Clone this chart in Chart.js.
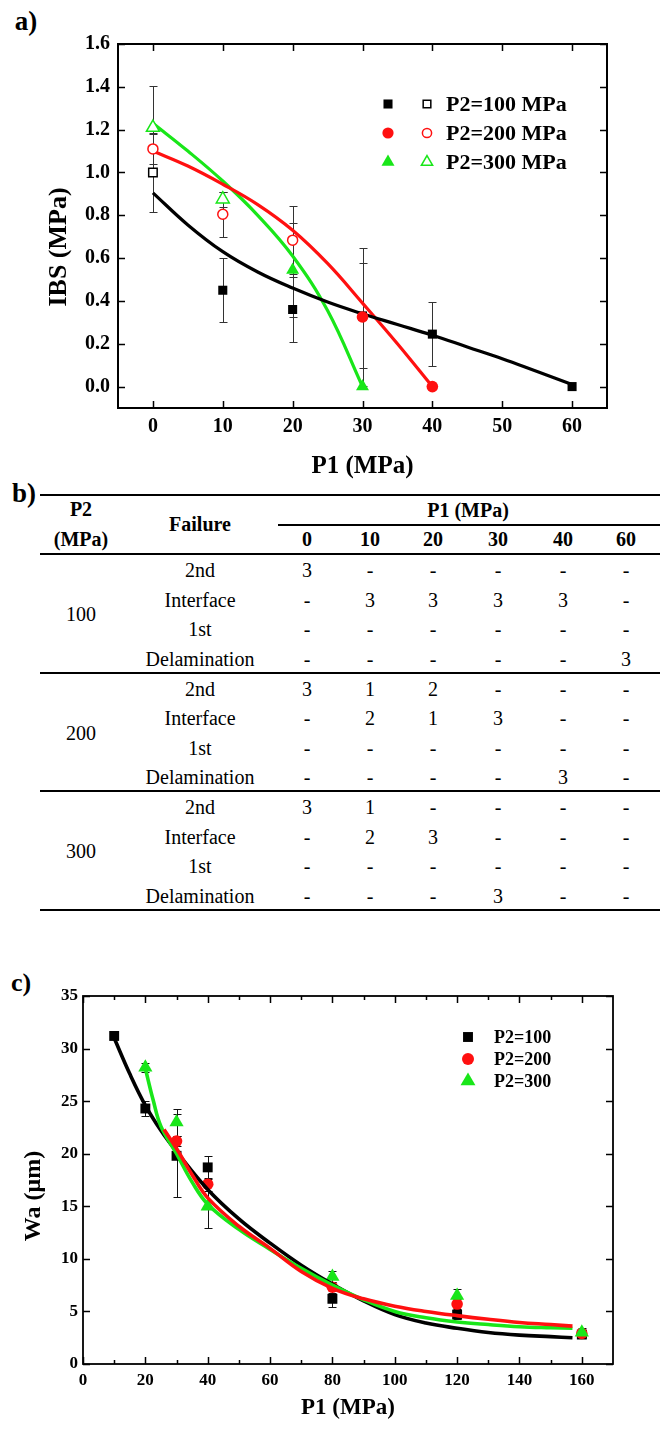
<!DOCTYPE html>
<html>
<head>
<meta charset="utf-8">
<script src="https://cdn.jsdelivr.net/npm/chart.js@4.4.1/dist/chart.umd.min.js"></script>
<style>
  html, body { margin: 0; padding: 0; background: #fff; }
  body { width: 660px; height: 1431px; position: relative; overflow: hidden;
         font-family: "Liberation Serif", "Times New Roman", "DejaVu Serif", serif; color: #000; }
  canvas { position: absolute; left: 0; }
  #chartA { top: 0; }
  #chartC { top: 950px; }
  .panel { position: absolute; font-family: "Liberation Serif", "Times New Roman", serif; font-weight: bold;
           line-height: 1; transform: translate(-50%, -50%); }
  .cell { position: absolute; font-family: "Liberation Serif", "Times New Roman", serif; line-height: 1;
          white-space: nowrap; transform: translate(-50%, -50%); font-size: 20px; font-weight: normal; }
  .cell.b { font-weight: bold; }
  .rule { position: absolute; background: #000; }
</style>
</head>
<body>
<div class="panel" style="left:26px;top:21px;font-size:27px;">a)</div>
<div class="panel" style="left:24px;top:493px;font-size:27px;">b)</div>
<div class="panel" style="left:21px;top:983px;font-size:26px;">c)</div>

<canvas id="chartA" width="660" height="490"></canvas>
<div id="table"></div>
<canvas id="chartC" width="660" height="481"></canvas>

<script>
// ---------- panel a: IBS against P1 ----------
const ibsTicksX = [0, 10, 20, 30, 40, 50, 60];
const ibsTicksY = [0, 0.2, 0.4, 0.6, 0.8, 1.0, 1.2, 1.4, 1.6];

// P2 = 100 MPa
const p100OpenX = [0];
const p100OpenY = [1.0];
const p100OpenErr = [0.185];
const p100X = [10, 20, 30, 40, 60];
const p100Y = [0.45, 0.36, 0.33, 0.245, 0.0];
const p100Err = [0.15, 0.15, 0.245, 0.15, 0];
// P2 = 200 MPa
const p200OpenX = [0, 10, 20];
const p200OpenY = [1.11, 0.805, 0.684];
const p200OpenErr = [0.07, 0.105, 0.16];
const p200X = [30, 40];
const p200Y = [0.325, 0.0];
const p200Err = [0.32, 0];
// P2 = 300 MPa
const p300OpenX = [0, 10];
const p300OpenY = [1.21, 0.875];
const p300OpenErr = [0.195, 0.035];
const p300X = [20, 30];
const p300Y = [0.545, 0.0];
const p300Err = [0.22, 0];

// fitted trend curves
const ibsFit100X = [0, 5, 10, 15, 20, 25, 30, 35, 40, 45, 50, 55, 60];
const ibsFit100Y = [0.905, 0.755, 0.63, 0.535, 0.46, 0.395, 0.34, 0.29, 0.24, 0.185, 0.13, 0.07, 0.01];
const ibsFit200X = [0, 5, 10, 15, 20, 25, 30, 35, 40];
const ibsFit200Y = [1.10, 1.03, 0.945, 0.85, 0.73, 0.575, 0.39, 0.2, 0.0];
const ibsFit300X = [0, 5, 10, 15, 20, 25, 30];
const ibsFit300Y = [1.23, 1.10, 0.96, 0.80, 0.61, 0.355, 0.0];

const ibsLegend = ['P2=100 MPa', 'P2=200 MPa', 'P2=300 MPa'];

// ---------- panel b: failure modes ----------
const p1Columns = ['0', '10', '20', '30', '40', '60'];
const failureModes = ['2nd', 'Interface', '1st', 'Delamination'];
const p2Levels = ['100', '200', '300'];
const counts100 = [
  ['3', '-', '-', '-', '-', '-'],
  ['-', '3', '3', '3', '3', '-'],
  ['-', '-', '-', '-', '-', '-'],
  ['-', '-', '-', '-', '-', '3']
];
const counts200 = [
  ['3', '1', '2', '-', '-', '-'],
  ['-', '2', '1', '3', '-', '-'],
  ['-', '-', '-', '-', '-', '-'],
  ['-', '-', '-', '-', '3', '-']
];
const counts300 = [
  ['3', '1', '-', '-', '-', '-'],
  ['-', '2', '3', '-', '-', '-'],
  ['-', '-', '-', '-', '-', '-'],
  ['-', '-', '-', '3', '-', '-']
];

// ---------- panel c: Wa against P1 ----------
const waTicksX = [0, 20, 40, 60, 80, 100, 120, 140, 160];
const waMinorX = [10, 30, 50, 70, 90, 110, 130, 150];
const waTicksY = [0, 5, 10, 15, 20, 25, 30, 35];

const wa100X = [10, 20, 30, 40, 80, 120, 160];
const wa100Y = [31.2, 24.3, 19.8, 18.7, 6.2, 4.7, 2.8];
const wa100Err = [0.3, 0.75, 3.95, 1.1, 0.8, 0.4, 0.3];
const wa200X = [30, 40, 80, 120, 160];
const wa200Y = [21.2, 17.1, 7.3, 5.7, 2.9];
const wa200Err = [0.5, 0.6, 0.5, 0.5, 0.3];
const wa300X = [20, 30, 40, 80, 120, 160];
const wa300Y = [28.2, 23.0, 15.0, 8.3, 6.5, 3.0];
const wa300Err = [0.4, 1.3, 2.1, 0.5, 0.65, 0.4];

const waFit100X = [10, 15, 20, 25, 30, 40, 50, 60, 70, 80, 90, 100, 110, 120, 130, 140, 150, 157];
const waFit100Y = [31.0, 27.6, 24.6, 22.2, 20.2, 16.6, 13.8, 11.5, 9.4, 7.6, 6.0, 4.7, 3.9, 3.4, 3.0, 2.75, 2.6, 2.5];
const waFit200X = [26, 30, 35, 40, 50, 60, 70, 80, 90, 100, 110, 120, 130, 140, 150, 157];
const waFit200Y = [22.3, 20.5, 18.0, 15.8, 13.1, 11.0, 8.8, 7.2, 6.2, 5.5, 5.0, 4.6, 4.25, 3.95, 3.75, 3.6];
const waFit300X = [20, 22.5, 25, 30, 35, 40, 50, 60, 70, 80, 90, 100, 110, 120, 130, 140, 150, 157];
const waFit300Y = [28.1, 25.1, 22.6, 20.0, 17.3, 15.2, 12.8, 10.9, 9.1, 7.5, 6.1, 5.0, 4.4, 4.0, 3.75, 3.55, 3.45, 3.4];

const waLegend = ['P2=100', 'P2=200', 'P2=300'];

// ---------- shared helpers ----------
const FONT = "'Liberation Serif', 'Times New Roman', serif";
const BLACK = '#000000';
const RED = '#ff1010';
const GREEN = '#19e619';

Chart.defaults.font.family = FONT;
Chart.defaults.color = '#000';

const pts = (xs, ys) => xs.map((x, i) => ({ x, y: ys[i] }));

function markerSet(xs, ys, errs, style, color, radius, open, order) {
  return {
    data: pts(xs, ys),
    errors: errs,
    pointStyle: style,
    pointRadius: radius,
    pointHoverRadius: radius,
    pointBackgroundColor: open ? '#ffffff' : color,
    pointBorderColor: color,
    pointBorderWidth: open ? 1.5 : 0,
    showLine: false,
    order
  };
}

function fitSet(xs, ys, color, width, order) {
  return {
    data: pts(xs, ys),
    showLine: true,
    borderColor: color,
    borderWidth: width,
    pointRadius: 0,
    pointHoverRadius: 0,
    tension: 0.4,
    fill: false,
    order
  };
}

// frame round the plot area with inward ticks on all four sides
const frameTicks = {
  id: 'frameTicks',
  afterDatasetsDraw(chart, args, o) {
    const { ctx, chartArea: a, scales: { x, y } } = chart;
    ctx.save();
    ctx.strokeStyle = '#000';
    ctx.lineWidth = o.lineWidth;
    ctx.strokeRect(a.left, a.top, a.right - a.left, a.bottom - a.top);
    ctx.beginPath();
    const xt = (vals, len) => vals.forEach(v => {
      const px = Math.round(x.getPixelForValue(v)) + 0.5;
      ctx.moveTo(px, a.bottom); ctx.lineTo(px, a.bottom - len);
      ctx.moveTo(px, a.top); ctx.lineTo(px, a.top + len);
    });
    xt(o.xMajor, o.major);
    if (o.xMinor) xt(o.xMinor, o.minor);
    o.yMajor.forEach(v => {
      const py = Math.round(y.getPixelForValue(v)) + 0.5;
      ctx.moveTo(a.left, py); ctx.lineTo(a.left + o.major, py);
      ctx.moveTo(a.right, py); ctx.lineTo(a.right - o.major, py);
    });
    ctx.lineWidth = o.tickWidth;
    ctx.stroke();
    ctx.restore();
  }
};

// vertical error bars with caps, taken from each dataset's "errors" list
const errorBars = {
  id: 'errorBars',
  beforeDatasetsDraw(chart, args, o) {
    const { ctx, scales: { x, y } } = chart;
    ctx.save();
    ctx.strokeStyle = o.color;
    ctx.lineWidth = 1;
    chart.data.datasets.forEach(ds => {
      if (!ds.errors) return;
      ds.data.forEach((p, i) => {
        const e = ds.errors[i];
        if (!e) return;
        const px = Math.round(x.getPixelForValue(p.x)) + 0.5;
        const top = Math.round(y.getPixelForValue(p.y + e)) + 0.5;
        const bot = Math.round(y.getPixelForValue(p.y - e)) + 0.5;
        ctx.beginPath();
        ctx.moveTo(px, top); ctx.lineTo(px, bot);
        ctx.moveTo(px - o.cap, top); ctx.lineTo(px + o.cap, top);
        ctx.moveTo(px - o.cap, bot); ctx.lineTo(px + o.cap, bot);
        ctx.stroke();
      });
    });
    ctx.restore();
  }
};

// axis titles
const axisTitles = {
  id: 'axisTitles',
  afterDraw(chart, args, o) {
    const { ctx, chartArea: a } = chart;
    ctx.save();
    ctx.fillStyle = '#000';
    ctx.textAlign = 'center';
    ctx.textBaseline = 'middle';
    ctx.font = `bold ${o.xSize}px ${FONT}`;
    ctx.fillText(o.xText, (a.left + a.right) / 2, a.bottom + o.xGap);
    ctx.translate(o.yX, (a.top + a.bottom) / 2 + o.yShift);
    ctx.rotate(-Math.PI / 2);
    ctx.font = `bold ${o.ySize}px ${FONT}`;
    ctx.fillText(o.yText, 0, 0);
    ctx.restore();
  }
};

function drawMarker(ctx, style, r, x, y, fill, stroke, bw) {
  ctx.fillStyle = fill;
  ctx.strokeStyle = stroke;
  ctx.lineWidth = bw;
  Chart.helpers.drawPoint(ctx, { pointStyle: style, radius: r, rotation: 0, borderWidth: bw }, x, y);
}

// legend rows: one or two markers followed by the label
const markerLegend = {
  id: 'markerLegend',
  afterDraw(chart, args, o) {
    const { ctx } = chart;
    ctx.save();
    o.rows.forEach((row, i) => {
      const yy = o.y0 + i * o.dy;
      row.markers.forEach(m => drawMarker(ctx, m.style, m.r, m.x, yy, m.fill, m.stroke, m.bw));
      ctx.fillStyle = '#000';
      ctx.textAlign = 'left';
      ctx.textBaseline = 'middle';
      ctx.font = `bold ${o.size}px ${FONT}`;
      ctx.fillText(row.text, o.textX, yy + 1);
    });
    ctx.restore();
  }
};

// ---------- panel a ----------
const legendStylesA = [
  { style: 'rect', r: 6.4, color: BLACK },
  { style: 'circle', r: 5.6, color: RED },
  { style: 'triangle', r: 7.5, color: GREEN }
];

new Chart(document.getElementById('chartA'), {
  type: 'scatter',
  data: {
    datasets: [
      markerSet(p100OpenX, p100OpenY, p100OpenErr, 'rect', BLACK, 6.0, true, 1),
      markerSet(p100X, p100Y, p100Err, 'rect', BLACK, 6.4, false, 2),
      markerSet(p200OpenX, p200OpenY, p200OpenErr, 'circle', RED, 5.0, true, 1),
      markerSet(p200X, p200Y, p200Err, 'circle', RED, 5.8, false, 1),
      markerSet(p300OpenX, p300OpenY, p300OpenErr, 'triangle', GREEN, 7.5, true, 1),
      markerSet(p300X, p300Y, p300Err, 'triangle', GREEN, 7.5, false, 1),
      fitSet(ibsFit300X, ibsFit300Y, GREEN, 3.2, 5),
      fitSet(ibsFit200X, ibsFit200Y, RED, 3.2, 4),
      fitSet(ibsFit100X, ibsFit100Y, BLACK, 3.2, 3)
    ]
  },
  options: {
    responsive: false,
    animation: false,
    devicePixelRatio: 1,
    layout: { padding: { top: 44, right: 53, left: 0, bottom: 0 } },
    plugins: {
      legend: { display: false },
      tooltip: { enabled: false },
      frameTicks: { lineWidth: 2, tickWidth: 1.5, major: 7, xMajor: ibsTicksX, yMajor: ibsTicksY },
      errorBars: { color: '#333', cap: 4 },
      axisTitles: { xText: 'P1 (MPa)', xSize: 25, xGap: 59, yText: 'IBS (MPa)', ySize: 26, yX: 59, yShift: 21 },
      markerLegend: {
        y0: 104, dy: 29, textX: 446, size: 22,
        rows: ibsLegend.map((t, i) => ({
          text: t,
          markers: [
            { style: legendStylesA[i].style, r: legendStylesA[i].r, x: 388, fill: legendStylesA[i].color, stroke: legendStylesA[i].color, bw: 0 },
            { style: legendStylesA[i].style, r: legendStylesA[i].r - 1, x: 427, fill: '#fff', stroke: legendStylesA[i].color, bw: 1.5 }
          ]
        }))
      }
    },
    scales: {
      x: {
        type: 'linear', min: -5, max: 65,
        afterBuildTicks: s => { s.ticks = ibsTicksX.map(v => ({ value: v })); },
        afterFit: s => { s.height = 82; },
        grid: { display: false, drawTicks: false },
        border: { display: false },
        ticks: { font: { size: 20, weight: 'bold', lineHeight: 1.2 }, color: '#000', padding: 7, maxRotation: 0, autoSkip: false, callback: v => String(v) }
      },
      y: {
        type: 'linear', min: -0.1, max: 1.6,
        afterBuildTicks: s => { s.ticks = ibsTicksY.map(v => ({ value: v })); },
        afterFit: s => { s.width = 118; },
        grid: { display: false, drawTicks: false },
        border: { display: false },
        ticks: { font: { size: 20, weight: 'bold', lineHeight: 1.2 }, color: '#000', padding: 8, autoSkip: false, callback: v => v.toFixed(1) }
      }
    }
  },
  plugins: [errorBars, frameTicks, axisTitles, markerLegend]
});

// ---------- panel b ----------
(function buildTable() {
  const host = document.getElementById('table');
  const colX = [307, 370, 433, 498, 563, 626];
  const add = (text, x, y, bold) => {
    const d = document.createElement('div');
    d.className = 'cell' + (bold ? ' b' : '');
    d.textContent = text;
    d.style.left = x + 'px';
    d.style.top = y + 'px';
    host.appendChild(d);
  };
  const rule = (x1, x2, y, h) => {
    const d = document.createElement('div');
    d.className = 'rule';
    d.style.left = x1 + 'px';
    d.style.width = (x2 - x1) + 'px';
    d.style.top = y + 'px';
    d.style.height = h + 'px';
    host.appendChild(d);
  };
  rule(40, 660, 494, 2);
  add('P2', 81, 509, true);
  add('(MPa)', 81, 539, true);
  add('Failure', 200, 524, true);
  add('P1 (MPa)', 468, 510, true);
  rule(278, 660, 524, 1.5);
  p1Columns.forEach((c, i) => add(c, colX[i], 539, true));
  rule(40, 660, 553, 2);

  const groups = [counts100, counts200, counts300];
  const groupTop = 553;
  const groupH = 118.5;
  const rowH = 29.6;
  groups.forEach((rows, g) => {
    const top = groupTop + g * groupH;
    add(p2Levels[g], 81, top + 61, false);
    rows.forEach((cells, r) => {
      const yy = top + 17 + r * rowH;
      add(failureModes[r], 200, yy, false);
      cells.forEach((c, k) => add(c, colX[k], yy, false));
    });
    rule(40, 660, top + groupH, 2);
  });
})();

// ---------- panel c ----------
const legendStylesC = [
  { style: 'rect', r: 7.0, color: BLACK },
  { style: 'circle', r: 6.0, color: RED },
  { style: 'triangle', r: 8.6, color: GREEN }
];

new Chart(document.getElementById('chartC'), {
  type: 'scatter',
  data: {
    datasets: [
      fitSet(waFit300X, waFit300Y, GREEN, 3.6, 3),
      fitSet(waFit200X, waFit200Y, RED, 3.6, 2),
      fitSet(waFit100X, waFit100Y, BLACK, 3.6, 4),
      markerSet(wa100X, wa100Y, wa100Err, 'rect', BLACK, 7.0, false, 7),
      markerSet(wa200X, wa200Y, wa200Err, 'circle', RED, 5.8, false, 6),
      markerSet(wa300X, wa300Y, wa300Err, 'triangle', GREEN, 8.2, false, 5)
    ]
  },
  options: {
    responsive: false,
    animation: false,
    devicePixelRatio: 1,
    layout: { padding: { top: 46, right: 47, left: 0, bottom: 0 } },
    plugins: {
      legend: { display: false },
      tooltip: { enabled: false },
      frameTicks: { lineWidth: 1.8, tickWidth: 1.5, major: 7, minor: 4, xMajor: waTicksX, xMinor: waMinorX, yMajor: waTicksY },
      errorBars: { color: '#111', cap: 4 },
      axisTitles: { xText: 'P1 (MPa)', xSize: 23, xGap: 44, yText: 'Wa (μm)', ySize: 24, yX: 34, yShift: 16 },
      markerLegend: {
        y0: 87, dy: 22, textX: 494, size: 18,
        rows: waLegend.map((t, i) => ({
          text: t,
          markers: [
            { style: legendStylesC[i].style, r: legendStylesC[i].r, x: 468, fill: legendStylesC[i].color, stroke: legendStylesC[i].color, bw: 0 }
          ]
        }))
      }
    },
    scales: {
      x: {
        type: 'linear', min: 0, max: 170,
        afterBuildTicks: s => { s.ticks = waTicksX.map(v => ({ value: v })); },
        afterFit: s => { s.height = 67; },
        grid: { display: false, drawTicks: false },
        border: { display: false },
        ticks: { font: { size: 17, weight: 'bold', lineHeight: 1.2 }, color: '#000', padding: 6, maxRotation: 0, autoSkip: false, callback: v => String(v) }
      },
      y: {
        type: 'linear', min: 0, max: 35,
        afterBuildTicks: s => { s.ticks = waTicksY.map(v => ({ value: v })); },
        afterFit: s => { s.width = 83; },
        grid: { display: false, drawTicks: false },
        border: { display: false },
        ticks: { font: { size: 17, weight: 'bold', lineHeight: 1.2 }, color: '#000', padding: 5, autoSkip: false, callback: v => String(v) }
      }
    }
  },
  plugins: [errorBars, frameTicks, axisTitles, markerLegend]
});
</script>
</body>
</html>
